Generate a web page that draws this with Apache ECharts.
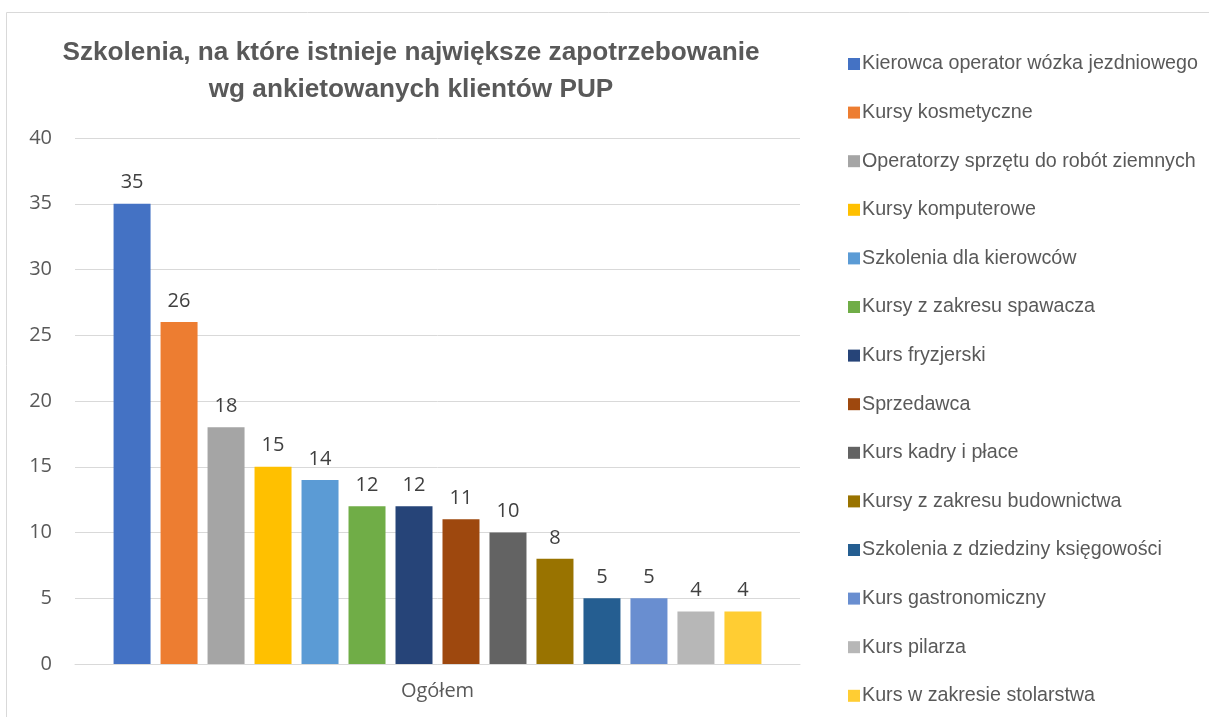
<!DOCTYPE html>
<html><head><meta charset="utf-8">
<script src="https://cdn.jsdelivr.net/npm/echarts@6/dist/echarts.min.js"></script>
<style>html,body{margin:0;padding:0;background:#fff}#c{width:1209px;height:717px}</style>
</head><body><div id="c"></div>
<script>
const categories = ['Ogółem'];
const seriesNames = [
  'Kierowca operator wózka jezdniowego',
  'Kursy kosmetyczne',
  'Operatorzy sprzętu do robót ziemnych',
  'Kursy komputerowe',
  'Szkolenia dla kierowców',
  'Kursy z zakresu spawacza',
  'Kurs fryzjerski',
  'Sprzedawca',
  'Kurs kadry i płace',
  'Kursy z zakresu budownictwa',
  'Szkolenia z dziedziny księgowości',
  'Kurs gastronomiczny',
  'Kurs pilarza',
  'Kurs w zakresie stolarstwa'
];
const seriesValues = [35, 26, 18, 15, 14, 12, 12, 11, 10, 8, 5, 5, 4, 4];
const colors = ['#4472C4','#ED7D31','#A5A5A5','#FFC000','#5B9BD5','#70AD47','#264478','#9E480E','#636363','#997300','#255E91','#698ED0','#B7B7B7','#FFCD33'];
const yTicks = {min: 0, max: 40, interval: 5};

const chart = echarts.init(document.getElementById('c'), null, {renderer: 'canvas'});
const labelFont = '"Open Sans", "DejaVu Sans", sans-serif';
const narrow = '"Liberation Sans Narrow", "Liberation Sans", Arial, sans-serif';
chart.setOption({
  animation: false,
  color: colors,
  title: {
    text: 'Szkolenia, na które istnieje największe zapotrzebowanie\nwg ankietowanych klientów PUP',
    left: 406, top: 29, textAlign: 'center',
    textStyle: {fontFamily: narrow, fontWeight: 'bold', fontSize: 26.2, color: '#595959', lineHeight: 37}
  },
  graphic: [{type: 'rect', shape: {x: 6.5, y: 12.5, width: 1300, height: 800}, style: {fill: 'none', stroke: '#d9d9d9', lineWidth: 1}}],
  legend: {
    orient: 'vertical', left: 843, top: 49,
    itemWidth: 12, itemHeight: 12, itemGap: 28.6,
    icon: 'rect',
    textStyle: {fontFamily: narrow, fontSize: 19.7, color: '#595959', padding: [0,0,0,-3]},
    data: seriesNames
  },
  grid: {left: 75, right: 409, top: 138, bottom: 53},
  xAxis: {
    type: 'category', data: categories,
    axisLine: {lineStyle: {color: '#d9d9d9', width: 1}},
    axisTick: {show: false},
    axisLabel: {fontFamily: labelFont, fontSize: 20, color: '#595959', margin: 17}
  },
  yAxis: {
    type: 'value', min: yTicks.min, max: yTicks.max, interval: yTicks.interval,
    axisLine: {show: false}, axisTick: {show: false},
    splitLine: {lineStyle: {color: '#d9d9d9', width: 1}},
    axisLabel: {fontFamily: labelFont, fontSize: 20, color: '#595959', margin: 23}
  },
  series: seriesNames.map((n, i) => ({
    name: n, type: 'bar', data: [seriesValues[i]],
    barWidth: 37, barGap: '27%',
    label: {show: true, position: 'top', distance: 11, fontFamily: labelFont, fontSize: 20, color: '#404040'}
  }))
});
</script></body></html>
